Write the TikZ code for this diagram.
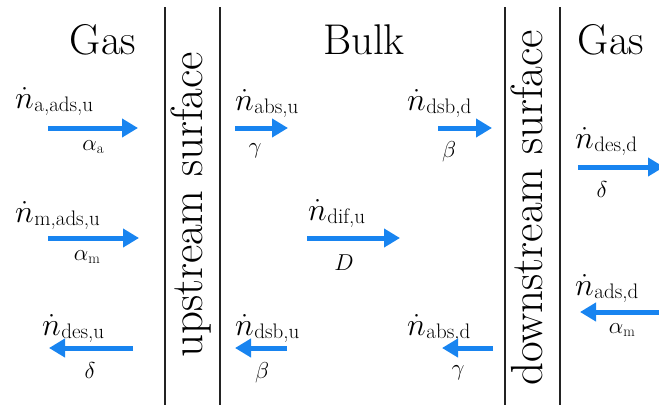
\documentclass[tikz,border=0pt]{standalone}
\usepackage{fix-cm}
\usetikzlibrary{arrows.meta}

\definecolor{flowblue}{RGB}{24,132,240}
\definecolor{wallgray}{RGB}{35,35,35}

% molar flux symbol: dotted n with an upright subscript
\newcommand{\nrate}[1]{{\fontsize{32}{32}\selectfont$\dot{n}$}\kern0.5pt\raisebox{-3pt}{\fontsize{21}{21}\selectfont #1}}
% rate coefficient, optionally with a small subscript
\newcommand{\kcoef}[2]{{\fontsize{23}{23}\selectfont$#1$}\raisebox{-3pt}{\fontsize{15}{15}\selectfont #2}}

\tikzset{
  wall/.style={line width=1.6pt, draw=wallgray},
  flow/.style={line width=5pt, draw=flowblue, -{Triangle[length=16pt,width=18pt]}},
  rate/.style={anchor=base west, inner sep=0pt},
  coef/.style={anchor=base, inner sep=0pt},
  head/.style={anchor=base, inner sep=0pt, font=\fontsize{43}{43}\selectfont},
  side/.style={rotate=90, anchor=base, inner sep=0pt, font=\fontsize{45}{45}\selectfont},
}

\begin{document}
\begin{tikzpicture}[x=1pt, y=-1pt]
  \path[use as bounding box] (0,0) rectangle (659,405);
  \clip (0,0) rectangle (659,405);

  % surfaces bounding the membrane
  \coordinate (w1t) at (165,7);   \coordinate (w1b) at (165,405);
  \coordinate (w2t) at (220,7);   \coordinate (w2b) at (220,405);
  \coordinate (w3t) at (505,7);   \coordinate (w3b) at (505,405);
  \coordinate (w4t) at (560,7);   \coordinate (w4b) at (560,405);
  \draw[wall] (w1t) -- (w1b);
  \draw[wall] (w2t) -- (w2b);
  \draw[wall] (w3t) -- (w3b);
  \draw[wall] (w4t) -- (w4b);

  % region titles
  \node[head] (gasL) at (103,54) {Gas};
  \node[head] (bulk) at (364,54) {Bulk};
  \node[head] (gasR) at (611,54) {Gas};
  \node[side] (up)   at (202,205) {upstream surface};
  \node[side] (down) at (542,208) {downstream surface};

  % upstream gas side
  \node[rate] (nL1) at (15,108) {\nrate{a,ads,u}};
  \node[coef] (cL1) at (93,150) {\kcoef{\alpha}{a}};
  \coordinate (L1s) at (48,128);  \coordinate (L1e) at (138,128);
  \draw[flow] (L1s) -- (L1e);

  \node[rate] (nL2) at (15,222) {\nrate{m,ads,u}};
  \node[coef] (cL2) at (87,260) {\kcoef{\alpha}{m}};
  \coordinate (L2s) at (48,238);  \coordinate (L2e) at (139,238);
  \draw[flow] (L2s) -- (L2e);

  \node[rate] (nL3) at (42,335) {\nrate{des,u}};
  \node[coef] (cL3) at (90,378) {\kcoef{\delta}{}};
  \coordinate (L3s) at (133,348); \coordinate (L3e) at (49,348);
  \draw[flow] (L3s) -- (L3e);

  % bulk
  \node[rate] (nB1) at (235,110) {\nrate{abs,u}};
  \node[coef] (cB1) at (255,153) {\kcoef{\gamma}{}};
  \coordinate (B1s) at (235,128); \coordinate (B1e) at (288,128);
  \draw[flow] (B1s) -- (B1e);

  \node[rate] (nB2) at (407,110) {\nrate{dsb,d}};
  \node[coef] (cB2) at (449,157) {\kcoef{\beta}{}};
  \coordinate (B2s) at (438,128); \coordinate (B2e) at (492,128);
  \draw[flow] (B2s) -- (B2e);

  \node[rate] (nB3) at (308,220) {\nrate{dif,u}};
  \node[coef] (cB3) at (344,270) {\kcoef{D}{}};
  \coordinate (B3s) at (307,238); \coordinate (B3e) at (400,238);
  \draw[flow] (B3s) -- (B3e);

  \node[rate] (nB4) at (235,335) {\nrate{dsb,u}};
  \node[coef] (cB4) at (262,378) {\kcoef{\beta}{}};
  \coordinate (B4s) at (287,348); \coordinate (B4e) at (235,348);
  \draw[flow] (B4s) -- (B4e);

  \node[rate] (nB5) at (407,335) {\nrate{abs,d}};
  \node[coef] (cB5) at (458,375) {\kcoef{\gamma}{}};
  \coordinate (B5s) at (493,348); \coordinate (B5e) at (442,348);
  \draw[flow] (B5s) -- (B5e);

  % downstream gas side
  \node[rate] (nR1) at (575,148) {\nrate{des,d}};
  \node[coef] (cR1) at (602,197) {\kcoef{\delta}{}};
  \coordinate (R1s) at (578,167); \coordinate (R1e) at (664,167);
  \draw[flow] (R1s) -- (R1e);

  \node[rate] (nR2) at (575,295) {\nrate{ads,d}};
  \node[coef] (cR2) at (622,333) {\kcoef{\alpha}{m}};
  \coordinate (R2s) at (675,312); \coordinate (R2e) at (580,312);
  \draw[flow] (R2s) -- (R2e);
\end{tikzpicture}
\end{document}
